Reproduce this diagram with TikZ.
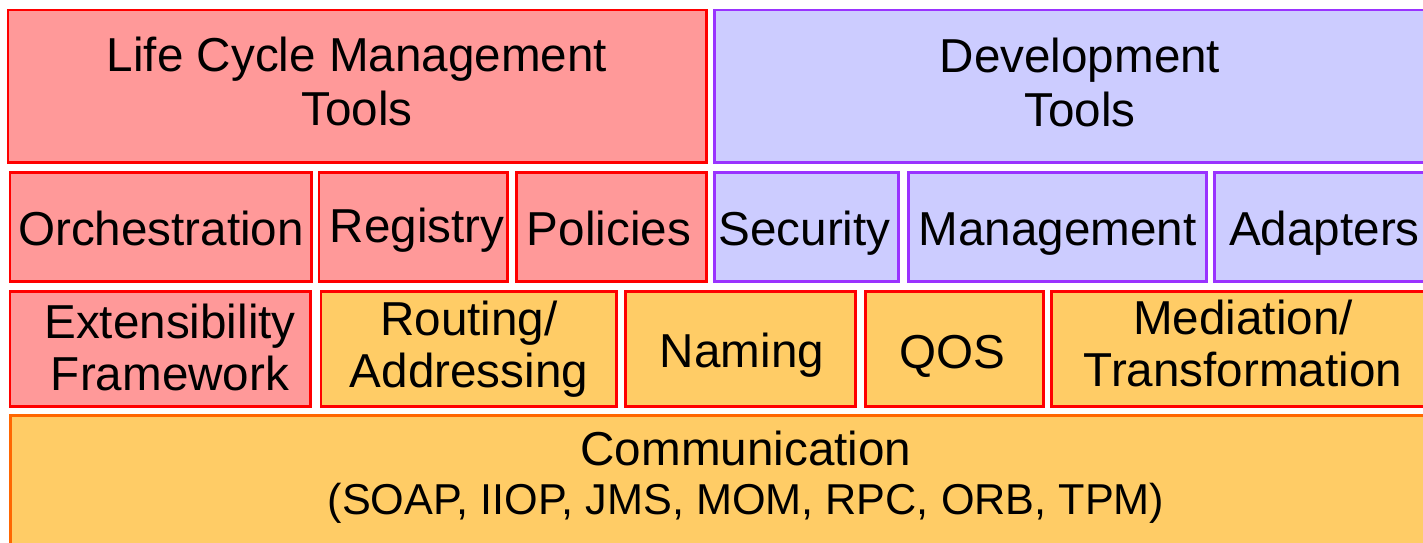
\documentclass[tikz,border=0pt]{standalone}
\usepackage{fontspec}
\setmainfont{Liberation Sans}
\definecolor{lcfill}{HTML}{FF9999}
\definecolor{devfill}{HTML}{CCCCFF}
\definecolor{devline}{HTML}{9933FF}
\definecolor{busfill}{HTML}{FFCC66}
\definecolor{busline}{HTML}{FF6600}
\tikzset{
lcbox/.style={draw=red, fill=lcfill, line width=1.7pt},
devbox/.style={draw=devline, fill=devfill, line width=1.7pt},
svcbox/.style={draw=red, fill=busfill, line width=1.7pt},
busbox/.style={draw=busline, fill=busfill, line width=1.7pt},
lbl/.style={anchor=base, align=center, inner sep=0pt, font=\fontsize{27.1}{29.5}\selectfont}
}
\begin{document}
\begin{tikzpicture}[x=0.02cm, y=-0.02cm]
  \useasboundingbox (0,0) rectangle (1423,542);
  \clip (0,0) rectangle (1423,542);
  \draw[lcbox] (8,10) rectangle (706,162);
  \draw[devbox] (714.5,10) rectangle (1450,162);
  \node[lbl] (lifecycle) at (357,125) {Life Cycle Management\\[1pt]Tools};
  \node[lbl] (devtools) at (1080,126) {Development\\[1pt]Tools};
  \draw[lcbox] (10,172.5) rectangle (311.5,281.5);
  \draw[lcbox] (319,172.5) rectangle (507.5,281.5);
  \draw[lcbox] (516,172.5) rectangle (706,281.5);
  \draw[devbox] (714.5,172.5) rectangle (898,281.5);
  \draw[devbox] (908,172.5) rectangle (1206.5,281.5);
  \draw[devbox] (1214,172.5) rectangle (1450,281.5);
  \node[lbl] (orch) at (161,245) {Orchestration};
  \node[lbl] (registry) at (417,242) {Registry};
  \node[lbl] (policies) at (609,245) {Policies};
  \node[lbl] (security) at (804.5,245) {Security};
  \node[lbl] (mgmt) at (1057.5,245) {Management};
  \node[lbl] (adapters) at (1324.5,245) {Adapters};
  \draw[lcbox] (10,291.5) rectangle (310.5,406);
  \draw[svcbox] (321,291.5) rectangle (616.5,406);
  \draw[svcbox] (625,291.5) rectangle (855,406);
  \draw[svcbox] (865.5,291.5) rectangle (1043,406);
  \draw[svcbox] (1051.5,291.5) rectangle (1450,406);
  \node[lbl] (extens) at (170,390.5) {Extensibility\\Framework};
  \node[lbl] (routing) at (469,387) {Routing/\\Addressing};
  \node[lbl] (naming) at (742,367) {Naming};
  \node[lbl] (qos) at (952.5,368) {QOS};
  \node[lbl] (mediation) at (1243,386) {Mediation/\\Transformation};
  \draw[busbox] (10.5,415.5) rectangle (1460,560);
  \node[lbl] (comm) at (746,514) {Communication\\[-2pt]\fontsize{24.6}{26.8}\selectfont (SOAP, IIOP, JMS, MOM, RPC, ORB, TPM)};
\end{tikzpicture}
\end{document}
